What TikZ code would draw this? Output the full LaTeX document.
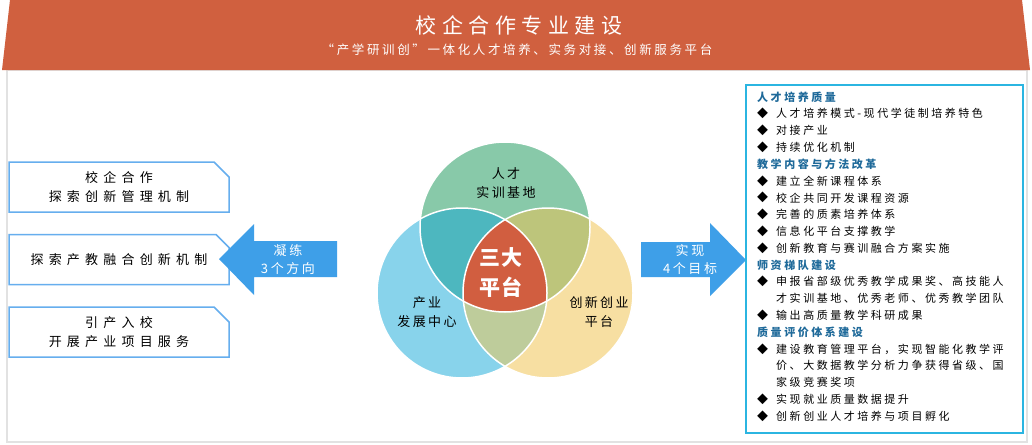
\documentclass[tikz,border=0pt]{standalone}
\usepackage{fontspec}
\setmainfont{Noto Sans CJK SC}
\usetikzlibrary{shapes.misc}
\definecolor{titlered}{HTML}{D0603F}
\definecolor{framegray}{HTML}{E2E2E2}
\definecolor{boxblue}{HTML}{66AEEE}
\definecolor{arrowblue}{HTML}{3E9FE8}
\definecolor{goalcyan}{HTML}{2BB5E1}
\definecolor{headblue}{HTML}{1F6A9A}
\definecolor{vtop}{HTML}{88C9A9}
\definecolor{vleft}{HTML}{88D3EB}
\definecolor{vright}{HTML}{F7DFA2}
\definecolor{vtl}{HTML}{4DB7BF}
\definecolor{vtr}{HTML}{BDC57B}
\definecolor{vlr}{HTML}{BECC9B}
\definecolor{vmid}{HTML}{D15E40}
\tikzstyle{leftbox}=[chamfered rectangle,chamfered rectangle corners=north east,chamfered rectangle xsep=8pt,chamfered rectangle ysep=7pt,draw=boxblue,line width=1.5pt,fill=white,minimum width=220pt,minimum height=50pt,inner sep=0pt,align=center,font=\fontsize{13}{19}\selectfont\addfontfeature{LetterSpace=40}]
\tikzstyle{arrowtext}=[white,align=center,font=\fontsize{13}{18}\selectfont\addfontfeature{LetterSpace=20}]
\tikzstyle{venntext}=[align=center,font=\fontsize{13}{19}\selectfont\addfontfeature{LetterSpace=18}]
\tikzstyle{goalbox}=[rectangle,draw=goalcyan,line width=1.8pt,minimum width=277pt,minimum height=348pt,inner sep=0pt]
\tikzstyle{headtext}=[anchor=west,inner sep=0pt,headblue,font=\fontsize{11}{13}\selectfont\bfseries\addfontfeature{LetterSpace=23}]
\tikzstyle{bodytext}=[anchor=west,inner sep=0pt,font=\fontsize{11}{13}\selectfont\addfontfeature{LetterSpace=23}]
\begin{document}
\begin{tikzpicture}[x=1pt,y=-1pt]
\useasboundingbox (0,0) rectangle (1032,444);
\fill[white] (0,0) rectangle (1032,444);

% frame and title
\draw[framegray,line width=2pt] (7,70) -- (7,442) -- (1027,442) -- (1027,70) -- cycle;
\fill[titlered] (10,0) -- (1022,0) -- (1030,70) -- (2,70) -- cycle;
\node[white,font=\fontsize{21}{24}\selectfont\addfontfeature{LetterSpace=26}] (title) at (519,25) {校企合作专业建设};
\node[white,font=\fontsize{12.5}{14}\selectfont\addfontfeature{LetterSpace=21}] (subtitle) at (517,50) {“产学研训创”一体化人才培养、实务对接、创新服务平台};

% left boxes
\node[leftbox] (dir1) at (119,187) {校企合作\\探索创新管理机制};
\node[leftbox] (dir2) at (119,259.5) {探索产教融合创新机制};
\node[leftbox] (dir3) at (119,332) {引产入校\\开展产业项目服务};

% arrows
\fill[arrowblue] (337,241) -- (254,241) -- (254,224) -- (219,259) -- (254,295) -- (254,277) -- (337,277) -- cycle;
\node[arrowtext] (ningl) at (288,260) {凝练\\3个方向};
\fill[arrowblue] (641,242) -- (710,242) -- (710,223) -- (746,260) -- (710,296) -- (710,277) -- (641,277) -- cycle;
\node[arrowtext] (shix) at (690,260) {实现\\4个目标};

% venn
\coordinate (ctop) at (505,227);
\coordinate (cleft) at (462,293);
\coordinate (cright) at (548,293);
\fill[vtop] (ctop) circle (85pt);
\fill[vleft] (cleft) circle (85pt);
\fill[vright] (cright) circle (85pt);
\begin{scope}
\clip (ctop) circle (85pt);
\fill[vtl] (cleft) circle (85pt);
\fill[vtr] (cright) circle (85pt);
\end{scope}
\begin{scope}
\clip (cleft) circle (85pt);
\fill[vlr] (cright) circle (85pt);
\end{scope}
\begin{scope}
\clip (ctop) circle (85pt);
\clip (cleft) circle (85pt);
\fill[vmid] (cright) circle (85pt);
\end{scope}
\foreach \c in {ctop,cleft,cright}
	\draw[white,line width=1.5pt] (\c) circle (85pt);
\node[venntext] (rencai) at (506,183) {人才\\实训基地};
\node[venntext] (chanye) at (427,312) {产业\\发展中心};
\node[venntext] (chuang) at (599,312) {创新创业\\平台};
\node[white,align=center,font=\fontsize{21}{30}\selectfont\bfseries\addfontfeature{LetterSpace=7}] (sanda) at (501,273) {三大\\平台};

% right box
\node[goalbox] (goals) at (884.5,259) {};
\foreach \k/\t [count=\i from 0] in {h/人才培养质量,b/人才培养模式-现代学徒制培养特色,b/对接产业,b/持续优化机制,h/教学内容与方法改革,b/建立全新课程体系,b/校企共同开发课程资源,b/完善的质素培养体系,b/信息化平台支撑教学,b/创新教育与赛训融合方案实施,h/师资梯队建设,b/申报省部级优秀教学成果奖、高技能人,c/才实训基地、优秀老师、优秀教学团队,b/输出高质量教学科研成果,h/质量评价体系建设,b/建设教育管理平台，实现智能化教学评,c/价、大数据教学分析力争获得省级、国,c/家级竞赛奖项,b/实现就业质量数据提升,b/创新创业人才培养与项目孵化}{
	\pgfmathsetmacro\yy{97+16.8*\i}
	\if\k h
		\node[headtext] (gt\i) at (757,\yy) {\t};
	\fi
	\if\k b
		\node[bodytext] (gm\i) at (757,\yy) {◆};
		\node[bodytext] (gt\i) at (776,\yy) {\t};
	\fi
	\if\k c
		\node[bodytext] (gt\i) at (776,\yy) {\t};
	\fi
}
\end{tikzpicture}
\end{document}
